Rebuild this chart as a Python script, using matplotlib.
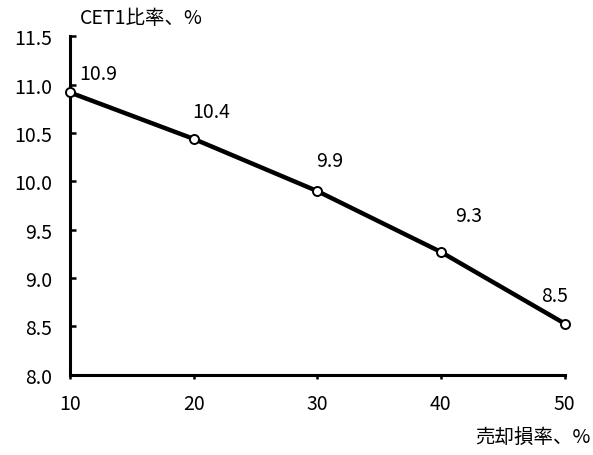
import matplotlib
matplotlib.use("Agg")
import matplotlib.pyplot as plt

plt.rcParams['font.family'] = ['Noto Sans CJK JP', 'DejaVu Sans']

# Loss rate on sale (%) vs. resulting CET1 ratio (%)
loss_rate = [10, 20, 30, 40, 50]
cet1_ratio = [10.92, 10.44, 9.90, 9.27, 8.53]
y_ticks = [8.0, 8.5, 9.0, 9.5, 10.0, 10.5, 11.0, 11.5]
x_ticks = [10, 20, 30, 40, 50]
# label offsets in points (dx, dy) relative to each marker
label_offsets = [(20, 14), (13, 20), (9, 22), (20, 26), (-7, 20)]

fig = plt.figure(figsize=(5.93, 4.56), dpi=100)
ax = fig.add_axes([0.118, 0.176, 0.834, 0.742])

ax.plot(loss_rate, cet1_ratio, color='black', linewidth=3.2, zorder=3,
        marker='o', markersize=6.5, markerfacecolor='white',
        markeredgecolor='black', markeredgewidth=1.4, clip_on=False)

for x, y, (dx, dy) in zip(loss_rate, cet1_ratio, label_offsets):
    ax.annotate(f"{y:.1f}", (x, y), xytext=(dx, dy), textcoords='offset points',
                ha='center', va='center', fontsize=14)

ax.set_xlim(10, 50)
ax.set_ylim(8.0, 11.5)
ax.set_xticks(x_ticks)
ax.set_yticks(y_ticks)
ax.set_yticklabels([f"{v:.1f}" for v in y_ticks])

for side in ('top', 'right'):
    ax.spines[side].set_visible(False)
for side in ('left', 'bottom'):
    ax.spines[side].set_linewidth(2.2)

ax.tick_params(axis='y', direction='in', length=4.5, width=1.8, pad=13, labelsize=14)
ax.tick_params(axis='x', direction='out', length=3, width=1.8, pad=10, labelsize=14)

fig.text(0.135, 0.96, "CET1比率、%", ha='left', va='center', fontsize=14)
fig.text(0.995, 0.04, "売却損率、%", ha='right', va='center', fontsize=14)

fig.savefig("out.png", dpi=100)
